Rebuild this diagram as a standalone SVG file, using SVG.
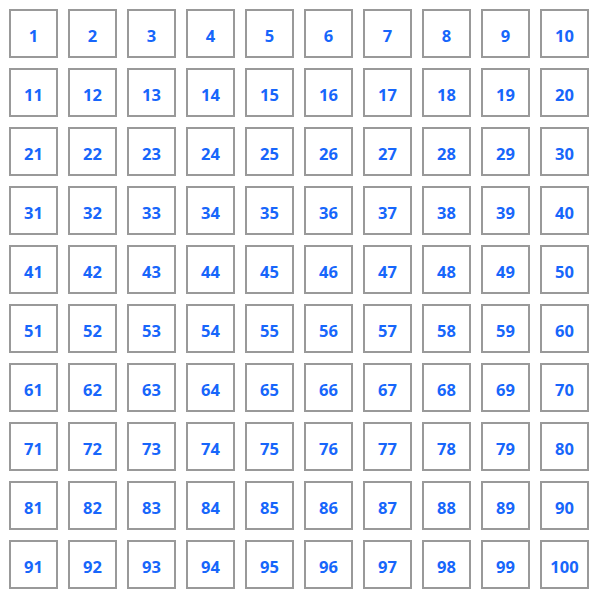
<svg xmlns="http://www.w3.org/2000/svg" width="600" height="598" viewBox="0 0 600 598">
<style>
.b{fill:#fff;stroke:#999;stroke-width:2}
text{font-family:"Open Sans","DejaVu Sans",sans-serif;font-weight:bold;font-size:16.5px;fill:#1766fb;text-anchor:middle}
</style>
<rect x="0" y="0" width="600" height="598" fill="#fff"/>
<g id="n1"><rect class="b" x="10" y="10" width="47" height="47"/><text x="33.5" y="41.5">1</text></g>
<g id="n2"><rect class="b" x="69" y="10" width="47" height="47"/><text x="92.5" y="41.5">2</text></g>
<g id="n3"><rect class="b" x="128" y="10" width="47" height="47"/><text x="151.5" y="41.5">3</text></g>
<g id="n4"><rect class="b" x="187" y="10" width="47" height="47"/><text x="210.5" y="41.5">4</text></g>
<g id="n5"><rect class="b" x="246" y="10" width="47" height="47"/><text x="269.5" y="41.5">5</text></g>
<g id="n6"><rect class="b" x="305" y="10" width="47" height="47"/><text x="328.5" y="41.5">6</text></g>
<g id="n7"><rect class="b" x="364" y="10" width="47" height="47"/><text x="387.5" y="41.5">7</text></g>
<g id="n8"><rect class="b" x="423" y="10" width="47" height="47"/><text x="446.5" y="41.5">8</text></g>
<g id="n9"><rect class="b" x="482" y="10" width="47" height="47"/><text x="505.5" y="41.5">9</text></g>
<g id="n10"><rect class="b" x="541" y="10" width="47" height="47"/><text x="564.5" y="41.5">10</text></g>
<g id="n11"><rect class="b" x="10" y="69" width="47" height="47"/><text x="33.5" y="100.5">11</text></g>
<g id="n12"><rect class="b" x="69" y="69" width="47" height="47"/><text x="92.5" y="100.5">12</text></g>
<g id="n13"><rect class="b" x="128" y="69" width="47" height="47"/><text x="151.5" y="100.5">13</text></g>
<g id="n14"><rect class="b" x="187" y="69" width="47" height="47"/><text x="210.5" y="100.5">14</text></g>
<g id="n15"><rect class="b" x="246" y="69" width="47" height="47"/><text x="269.5" y="100.5">15</text></g>
<g id="n16"><rect class="b" x="305" y="69" width="47" height="47"/><text x="328.5" y="100.5">16</text></g>
<g id="n17"><rect class="b" x="364" y="69" width="47" height="47"/><text x="387.5" y="100.5">17</text></g>
<g id="n18"><rect class="b" x="423" y="69" width="47" height="47"/><text x="446.5" y="100.5">18</text></g>
<g id="n19"><rect class="b" x="482" y="69" width="47" height="47"/><text x="505.5" y="100.5">19</text></g>
<g id="n20"><rect class="b" x="541" y="69" width="47" height="47"/><text x="564.5" y="100.5">20</text></g>
<g id="n21"><rect class="b" x="10" y="128" width="47" height="47"/><text x="33.5" y="159.5">21</text></g>
<g id="n22"><rect class="b" x="69" y="128" width="47" height="47"/><text x="92.5" y="159.5">22</text></g>
<g id="n23"><rect class="b" x="128" y="128" width="47" height="47"/><text x="151.5" y="159.5">23</text></g>
<g id="n24"><rect class="b" x="187" y="128" width="47" height="47"/><text x="210.5" y="159.5">24</text></g>
<g id="n25"><rect class="b" x="246" y="128" width="47" height="47"/><text x="269.5" y="159.5">25</text></g>
<g id="n26"><rect class="b" x="305" y="128" width="47" height="47"/><text x="328.5" y="159.5">26</text></g>
<g id="n27"><rect class="b" x="364" y="128" width="47" height="47"/><text x="387.5" y="159.5">27</text></g>
<g id="n28"><rect class="b" x="423" y="128" width="47" height="47"/><text x="446.5" y="159.5">28</text></g>
<g id="n29"><rect class="b" x="482" y="128" width="47" height="47"/><text x="505.5" y="159.5">29</text></g>
<g id="n30"><rect class="b" x="541" y="128" width="47" height="47"/><text x="564.5" y="159.5">30</text></g>
<g id="n31"><rect class="b" x="10" y="187" width="47" height="47"/><text x="33.5" y="218.5">31</text></g>
<g id="n32"><rect class="b" x="69" y="187" width="47" height="47"/><text x="92.5" y="218.5">32</text></g>
<g id="n33"><rect class="b" x="128" y="187" width="47" height="47"/><text x="151.5" y="218.5">33</text></g>
<g id="n34"><rect class="b" x="187" y="187" width="47" height="47"/><text x="210.5" y="218.5">34</text></g>
<g id="n35"><rect class="b" x="246" y="187" width="47" height="47"/><text x="269.5" y="218.5">35</text></g>
<g id="n36"><rect class="b" x="305" y="187" width="47" height="47"/><text x="328.5" y="218.5">36</text></g>
<g id="n37"><rect class="b" x="364" y="187" width="47" height="47"/><text x="387.5" y="218.5">37</text></g>
<g id="n38"><rect class="b" x="423" y="187" width="47" height="47"/><text x="446.5" y="218.5">38</text></g>
<g id="n39"><rect class="b" x="482" y="187" width="47" height="47"/><text x="505.5" y="218.5">39</text></g>
<g id="n40"><rect class="b" x="541" y="187" width="47" height="47"/><text x="564.5" y="218.5">40</text></g>
<g id="n41"><rect class="b" x="10" y="246" width="47" height="47"/><text x="33.5" y="277.5">41</text></g>
<g id="n42"><rect class="b" x="69" y="246" width="47" height="47"/><text x="92.5" y="277.5">42</text></g>
<g id="n43"><rect class="b" x="128" y="246" width="47" height="47"/><text x="151.5" y="277.5">43</text></g>
<g id="n44"><rect class="b" x="187" y="246" width="47" height="47"/><text x="210.5" y="277.5">44</text></g>
<g id="n45"><rect class="b" x="246" y="246" width="47" height="47"/><text x="269.5" y="277.5">45</text></g>
<g id="n46"><rect class="b" x="305" y="246" width="47" height="47"/><text x="328.5" y="277.5">46</text></g>
<g id="n47"><rect class="b" x="364" y="246" width="47" height="47"/><text x="387.5" y="277.5">47</text></g>
<g id="n48"><rect class="b" x="423" y="246" width="47" height="47"/><text x="446.5" y="277.5">48</text></g>
<g id="n49"><rect class="b" x="482" y="246" width="47" height="47"/><text x="505.5" y="277.5">49</text></g>
<g id="n50"><rect class="b" x="541" y="246" width="47" height="47"/><text x="564.5" y="277.5">50</text></g>
<g id="n51"><rect class="b" x="10" y="305" width="47" height="47"/><text x="33.5" y="336.5">51</text></g>
<g id="n52"><rect class="b" x="69" y="305" width="47" height="47"/><text x="92.5" y="336.5">52</text></g>
<g id="n53"><rect class="b" x="128" y="305" width="47" height="47"/><text x="151.5" y="336.5">53</text></g>
<g id="n54"><rect class="b" x="187" y="305" width="47" height="47"/><text x="210.5" y="336.5">54</text></g>
<g id="n55"><rect class="b" x="246" y="305" width="47" height="47"/><text x="269.5" y="336.5">55</text></g>
<g id="n56"><rect class="b" x="305" y="305" width="47" height="47"/><text x="328.5" y="336.5">56</text></g>
<g id="n57"><rect class="b" x="364" y="305" width="47" height="47"/><text x="387.5" y="336.5">57</text></g>
<g id="n58"><rect class="b" x="423" y="305" width="47" height="47"/><text x="446.5" y="336.5">58</text></g>
<g id="n59"><rect class="b" x="482" y="305" width="47" height="47"/><text x="505.5" y="336.5">59</text></g>
<g id="n60"><rect class="b" x="541" y="305" width="47" height="47"/><text x="564.5" y="336.5">60</text></g>
<g id="n61"><rect class="b" x="10" y="364" width="47" height="47"/><text x="33.5" y="395.5">61</text></g>
<g id="n62"><rect class="b" x="69" y="364" width="47" height="47"/><text x="92.5" y="395.5">62</text></g>
<g id="n63"><rect class="b" x="128" y="364" width="47" height="47"/><text x="151.5" y="395.5">63</text></g>
<g id="n64"><rect class="b" x="187" y="364" width="47" height="47"/><text x="210.5" y="395.5">64</text></g>
<g id="n65"><rect class="b" x="246" y="364" width="47" height="47"/><text x="269.5" y="395.5">65</text></g>
<g id="n66"><rect class="b" x="305" y="364" width="47" height="47"/><text x="328.5" y="395.5">66</text></g>
<g id="n67"><rect class="b" x="364" y="364" width="47" height="47"/><text x="387.5" y="395.5">67</text></g>
<g id="n68"><rect class="b" x="423" y="364" width="47" height="47"/><text x="446.5" y="395.5">68</text></g>
<g id="n69"><rect class="b" x="482" y="364" width="47" height="47"/><text x="505.5" y="395.5">69</text></g>
<g id="n70"><rect class="b" x="541" y="364" width="47" height="47"/><text x="564.5" y="395.5">70</text></g>
<g id="n71"><rect class="b" x="10" y="423" width="47" height="47"/><text x="33.5" y="454.5">71</text></g>
<g id="n72"><rect class="b" x="69" y="423" width="47" height="47"/><text x="92.5" y="454.5">72</text></g>
<g id="n73"><rect class="b" x="128" y="423" width="47" height="47"/><text x="151.5" y="454.5">73</text></g>
<g id="n74"><rect class="b" x="187" y="423" width="47" height="47"/><text x="210.5" y="454.5">74</text></g>
<g id="n75"><rect class="b" x="246" y="423" width="47" height="47"/><text x="269.5" y="454.5">75</text></g>
<g id="n76"><rect class="b" x="305" y="423" width="47" height="47"/><text x="328.5" y="454.5">76</text></g>
<g id="n77"><rect class="b" x="364" y="423" width="47" height="47"/><text x="387.5" y="454.5">77</text></g>
<g id="n78"><rect class="b" x="423" y="423" width="47" height="47"/><text x="446.5" y="454.5">78</text></g>
<g id="n79"><rect class="b" x="482" y="423" width="47" height="47"/><text x="505.5" y="454.5">79</text></g>
<g id="n80"><rect class="b" x="541" y="423" width="47" height="47"/><text x="564.5" y="454.5">80</text></g>
<g id="n81"><rect class="b" x="10" y="482" width="47" height="47"/><text x="33.5" y="513.5">81</text></g>
<g id="n82"><rect class="b" x="69" y="482" width="47" height="47"/><text x="92.5" y="513.5">82</text></g>
<g id="n83"><rect class="b" x="128" y="482" width="47" height="47"/><text x="151.5" y="513.5">83</text></g>
<g id="n84"><rect class="b" x="187" y="482" width="47" height="47"/><text x="210.5" y="513.5">84</text></g>
<g id="n85"><rect class="b" x="246" y="482" width="47" height="47"/><text x="269.5" y="513.5">85</text></g>
<g id="n86"><rect class="b" x="305" y="482" width="47" height="47"/><text x="328.5" y="513.5">86</text></g>
<g id="n87"><rect class="b" x="364" y="482" width="47" height="47"/><text x="387.5" y="513.5">87</text></g>
<g id="n88"><rect class="b" x="423" y="482" width="47" height="47"/><text x="446.5" y="513.5">88</text></g>
<g id="n89"><rect class="b" x="482" y="482" width="47" height="47"/><text x="505.5" y="513.5">89</text></g>
<g id="n90"><rect class="b" x="541" y="482" width="47" height="47"/><text x="564.5" y="513.5">90</text></g>
<g id="n91"><rect class="b" x="10" y="541" width="47" height="47"/><text x="33.5" y="572.5">91</text></g>
<g id="n92"><rect class="b" x="69" y="541" width="47" height="47"/><text x="92.5" y="572.5">92</text></g>
<g id="n93"><rect class="b" x="128" y="541" width="47" height="47"/><text x="151.5" y="572.5">93</text></g>
<g id="n94"><rect class="b" x="187" y="541" width="47" height="47"/><text x="210.5" y="572.5">94</text></g>
<g id="n95"><rect class="b" x="246" y="541" width="47" height="47"/><text x="269.5" y="572.5">95</text></g>
<g id="n96"><rect class="b" x="305" y="541" width="47" height="47"/><text x="328.5" y="572.5">96</text></g>
<g id="n97"><rect class="b" x="364" y="541" width="47" height="47"/><text x="387.5" y="572.5">97</text></g>
<g id="n98"><rect class="b" x="423" y="541" width="47" height="47"/><text x="446.5" y="572.5">98</text></g>
<g id="n99"><rect class="b" x="482" y="541" width="47" height="47"/><text x="505.5" y="572.5">99</text></g>
<g id="n100"><rect class="b" x="541" y="541" width="47" height="47"/><text x="564.5" y="572.5">100</text></g>
</svg>
